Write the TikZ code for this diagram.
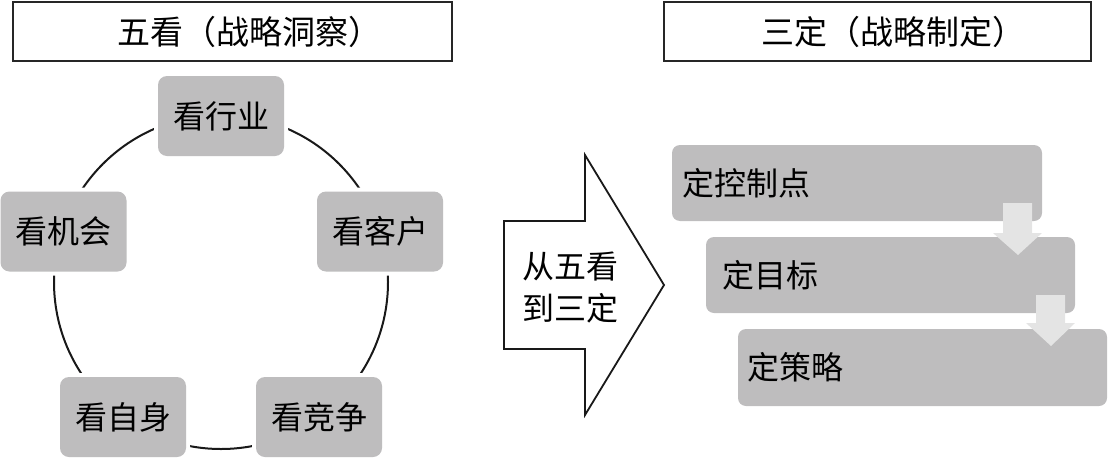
\documentclass[tikz,border=0pt]{standalone}
\usepackage{fontspec}
\setmainfont{Noto Sans CJK SC}
\definecolor{boxgray}{RGB}{190,189,190}
\definecolor{arrowgray}{RGB}{228,228,228}
\begin{document}
\begin{tikzpicture}[x=1pt,y=-1pt,
  titlebox/.style={draw=black!85, line width=2pt, fill=white, minimum width=439pt, minimum height=59pt, inner sep=0pt, font=\fontsize{33}{38}\selectfont},
  lookbox/.style={fill=boxgray, rounded corners=9pt, minimum width=126pt, minimum height=80pt, inner sep=0pt,
    preaction={draw=white, line width=8pt}, font=\fontsize{32}{38}\selectfont},
  stepbox/.style={fill=boxgray, rounded corners=8pt, minimum height=76pt, align=left, inner ysep=0pt, font=\fontsize{32}{38}\selectfont},
  downarrow/.style={fill=arrowgray, draw=none},
  ringline/.style={draw=black!90, line width=2pt}
]
\useasboundingbox (0,0) rectangle (1108,458);

% titles
\node[titlebox] (t1) at (232.5,31.5) {\hspace*{33pt}五看（战略洞察）};
\node[titlebox, minimum width=427pt] (t2) at (877.5,31.5) {\hspace*{31pt}三定（战略制定）};

% ring
\coordinate (ringc) at (221,282);
\draw[ringline] (ringc) circle[radius=167pt];

\node[lookbox] (hy) at (221,116) {看行业};
\node[lookbox] (jh) at (63.5,231.5) {看机会};
\node[lookbox] (kh) at (380,231.5) {看客户};
\node[lookbox] (zs) at (123,417) {看自身};
\node[lookbox] (jz) at (319,417) {看竞争};

% big arrow
\draw[line width=1.8pt, draw=black!90, fill=white, line join=miter]
  (504,221) -- (585,221) -- (585,155) -- (664,285) -- (585,415) -- (585,349) -- (504,349) -- cycle;
\node[align=center, font=\fontsize{32}{42}\selectfont, inner sep=0pt] (mid) at (570,288) {从五看\\到三定};

% steps
\node[stepbox, inner xsep=10pt, text width=350pt] (s1) at (857,183) {定控制点};
\node[stepbox, inner xsep=16pt, text width=337pt] (s2) at (890.5,275) {定目标};
\node[stepbox, inner xsep=9pt, text width=351pt, minimum height=77pt] (s3) at (922.5,367.5) {定策略};

\path[downarrow] (1003,203) -- (1032,203) -- (1032,233) -- (1042,233) -- (1018,255) -- (993,233) -- (1003,233) -- cycle;
\path[downarrow] (1036,295) -- (1065,295) -- (1065,323) -- (1075,323) -- (1051,346) -- (1026,323) -- (1036,323) -- cycle;
\end{tikzpicture}
\end{document}
